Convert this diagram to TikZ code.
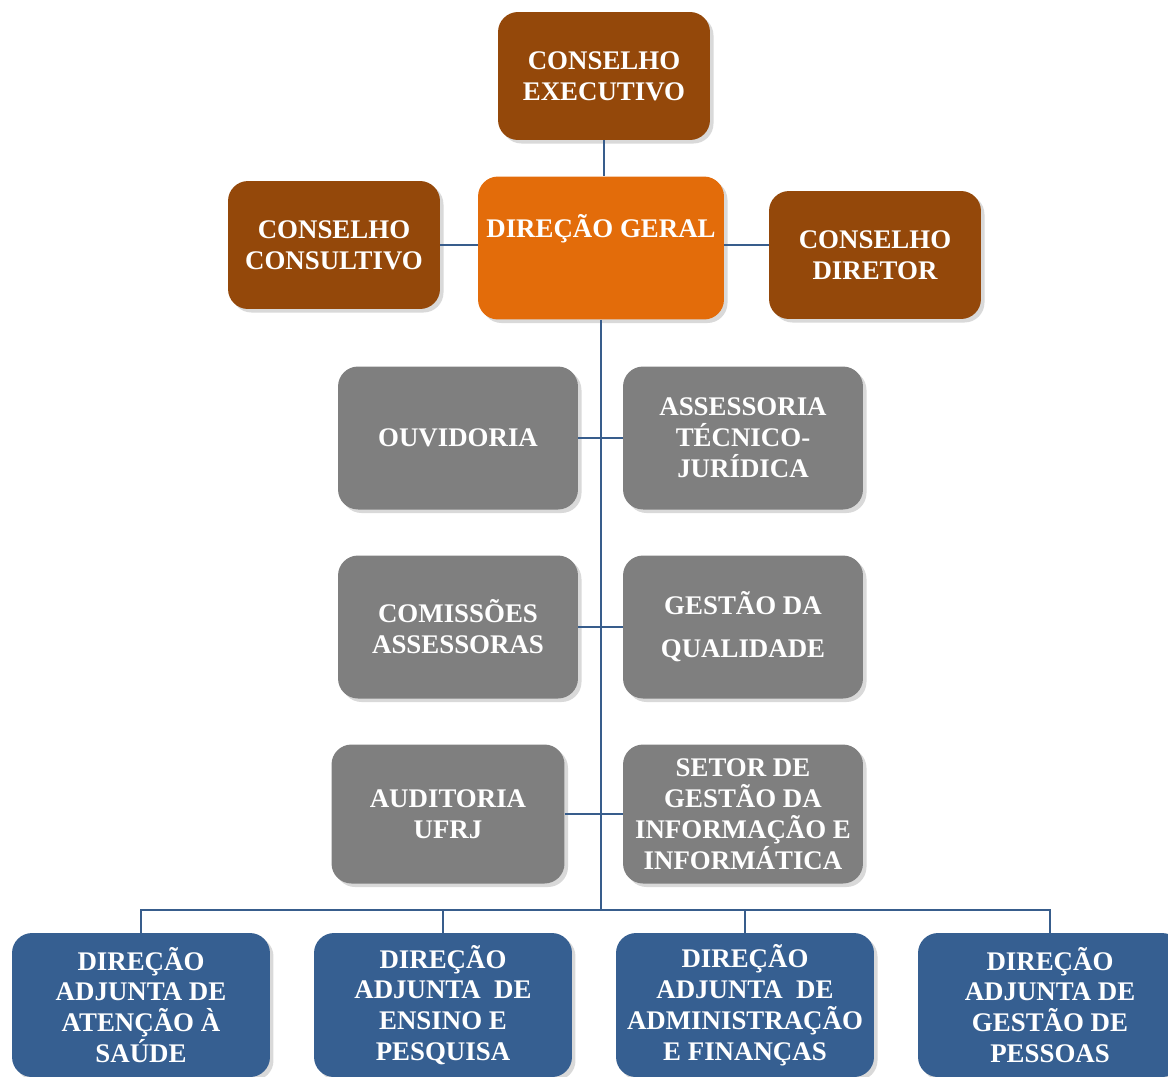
\documentclass[tikz,border=0pt]{standalone}
\usepackage{fontspec}
\setmainfont{Liberation Serif}
\usetikzlibrary{positioning,shadows,calc}

\definecolor{conselho}{RGB}{148,72,10}
\definecolor{direcao}{RGB}{227,108,10}
\definecolor{assessor}{RGB}{127,127,127}
\definecolor{adjunta}{RGB}{54,95,145}
\definecolor{linha}{RGB}{56,93,140}

\begin{document}
\begin{tikzpicture}[x=0.02cm,y=-0.02cm,
  box/.style={rounded corners=0.4cm, text=white, align=center,
    font=\fontsize{15.3}{17.6}\selectfont\bfseries,
    drop shadow={shadow xshift=2pt,shadow yshift=-2pt,opacity=0.3}},
  cons/.style={box, fill=conselho, minimum width=4.24cm, minimum height=2.56cm},
  geral/.style={box, fill=direcao, minimum width=4.92cm, minimum height=2.86cm},
  cinza/.style={box, fill=assessor, minimum width=4.8cm, minimum height=2.86cm},
  adj/.style={box, fill=adjunta, minimum width=5.16cm, minimum height=2.88cm},
  con/.style={draw=linha, line width=1.1pt}]

\useasboundingbox (0,0) rectangle (1168,1076);

\node[cons] (ce) at (604,76) {CONSELHO\\EXECUTIVO};
\node[geral] (dg) at (601,248) {DIREÇÃO GERAL\\[7.4pt]\mbox{}};
\node[cons] (cc) at (334,245) {CONSELHO\\CONSULTIVO};
\node[cons] (cd) at (875,255) {CONSELHO\\DIRETOR};

\node[cinza] (ouv) at (458,438) {OUVIDORIA};
\node[cinza] (ass) at (743,438) {ASSESSORIA\\TÉCNICO-\\JURÍDICA};
\node[cinza] (com) at (458,627) {COMISSÕES\\ASSESSORAS};
\node[cinza] (gq) at (743,627) {GESTÃO DA\\[7pt]QUALIDADE};
\node[cinza, minimum width=4.66cm, minimum height=2.78cm] (aud) at (448,814) {AUDITORIA\\UFRJ};
\node[cinza, minimum height=2.78cm] (sgi) at (743,814) {SETOR DE\\GESTÃO DA\\INFORMAÇÃO E\\INFORMÁTICA};

\node[adj] (da1) at (141,1005) {DIREÇÃO\\ADJUNTA DE\\ATENÇÃO À\\SAÚDE};
\node[adj] (da2) at (443,1005) {DIREÇÃO\\ADJUNTA\ \ DE\\ENSINO E\\PESQUISA};
\node[adj] (da3) at (745,1005) {DIREÇÃO\\ADJUNTA\ \ DE\\ADMINISTRAÇÃO\\E FINANÇAS};
\node[adj, minimum width=5.28cm] (da4) at (1050,1005) {DIREÇÃO\\ADJUNTA DE\\GESTÃO DE\\PESSOAS};

\coordinate (bus) at (601,910);

\draw[con] (ce.south) -- (ce.south |- dg.north);
\draw[con] (cc.east) -- (cc.east -| dg.west);
\draw[con] (cc.east -| dg.east) -- (cc.east -| cd.west);
\draw[con] (dg.south) -- (bus);
\draw[con] (ouv.east) -- (ass.west);
\draw[con] (com.east) -- (gq.west);
\draw[con] (aud.east) -- (sgi.west);
\draw[con] (da1.north) |- (bus) -| (da4.north);
\draw[con] (da2.north) |- (bus);
\draw[con] (da3.north) |- (bus);

\end{tikzpicture}
\end{document}
